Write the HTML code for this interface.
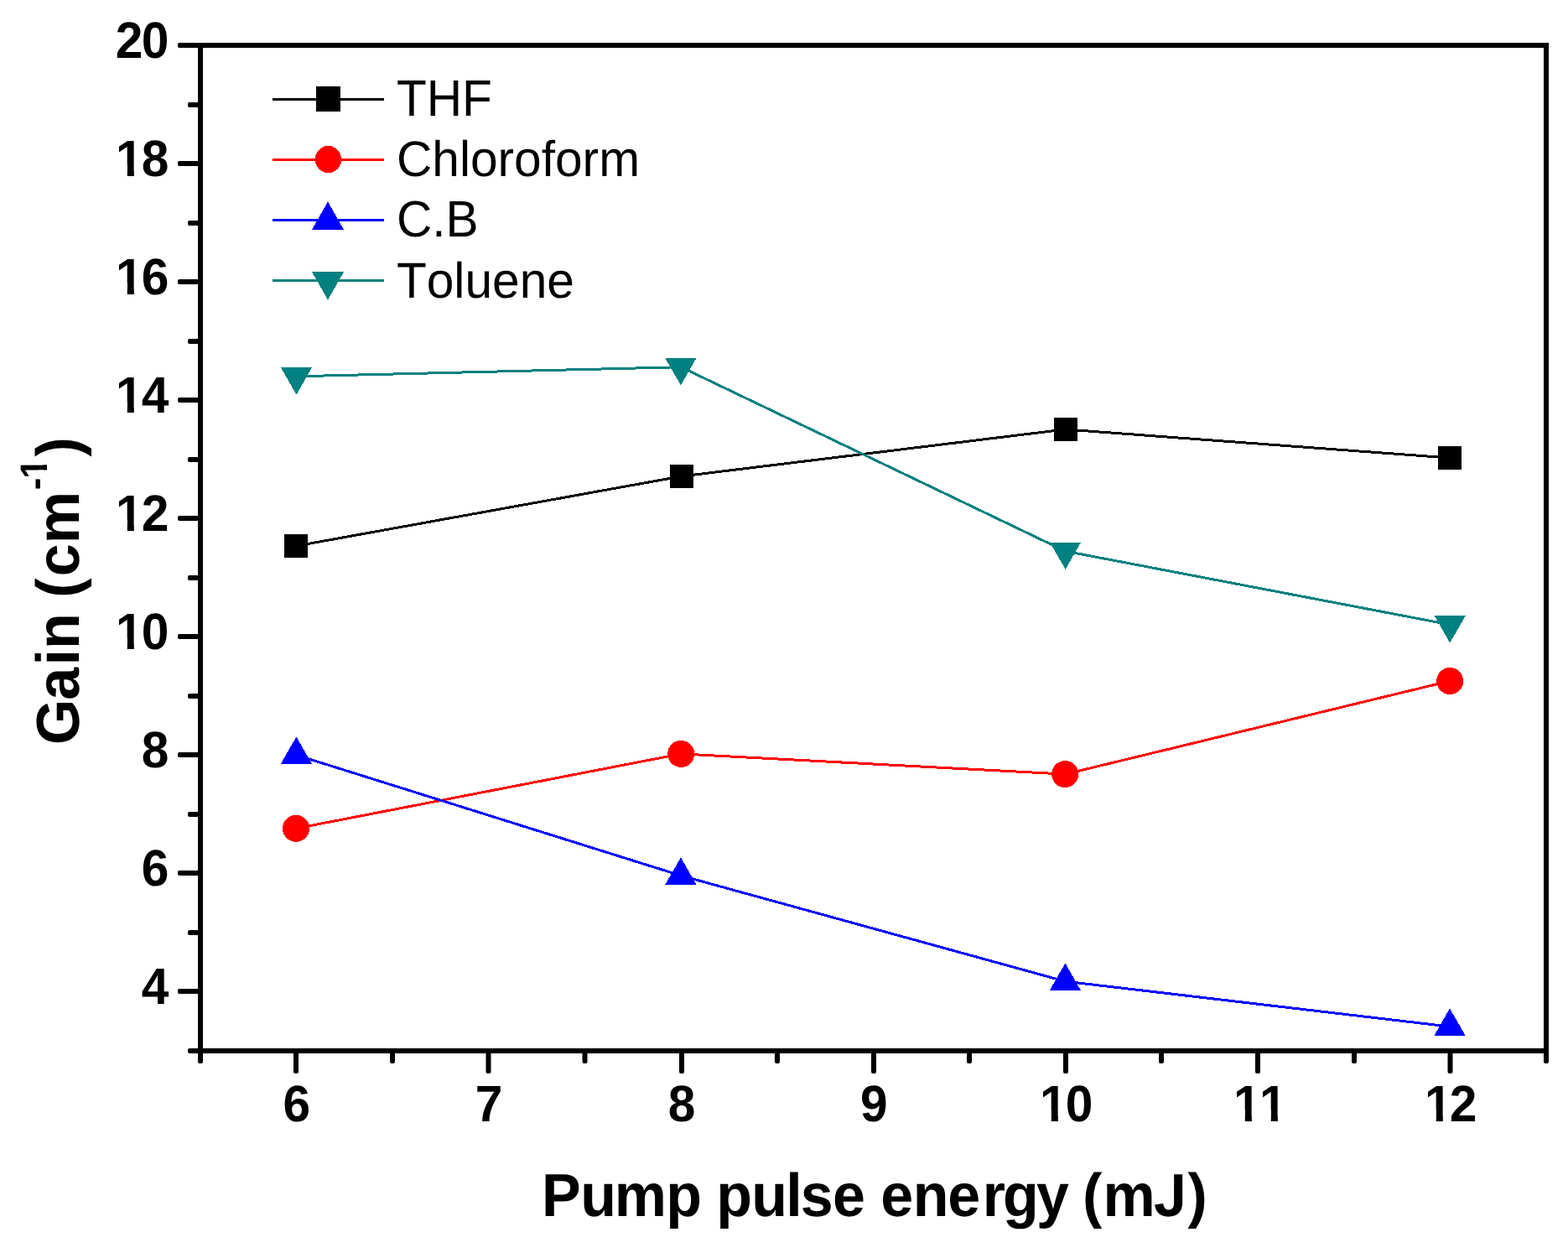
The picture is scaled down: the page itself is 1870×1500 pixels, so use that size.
<!DOCTYPE html>
<html lang="en"><head><meta charset="utf-8"><title>Gain vs pump pulse energy</title>
<style>
html,body{margin:0;padding:0;background:#fff;}
body{width:1870px;height:1500px;overflow:hidden;}
svg{display:block;}
text{font-family:"Liberation Sans",Arial,Helvetica,sans-serif;fill:#000;font-kerning:none;font-variant-ligatures:none;text-rendering:geometricPrecision;}
.tk{font-weight:bold;font-size:58.67px;}
.lg{font-weight:normal;font-size:58.67px;}
.xt{font-weight:bold;font-size:70px;}
.yt{font-weight:bold;font-size:70px;}
.ax{stroke:#000;stroke-width:6;fill:none;}
.ln{stroke-width:3;fill:none;stroke-linejoin:round;}
</style></head><body>
<svg width="1870" height="1500" viewBox="0 0 1870 1500">
<rect x="0" y="0" width="1870" height="1500" fill="#ffffff"/>
<defs>
<clipPath id="c10_0_306"><polygon points="-1.00,-46.94 21.74,-46.94 21.74,2.93 13.69,2.93 13.69,-12.91 -1.00,-12.91"/><rect x="32.57" y="-49.87" width="35.20" height="58.67"/></clipPath>
<clipPath id="c10_0_307"><polygon points="-1.00,-46.94 21.74,-46.94 21.74,2.93 13.69,2.93 13.69,-12.91 -1.00,-12.91"/><rect x="32.67" y="-49.87" width="35.20" height="58.67"/></clipPath>
<clipPath id="c11_0_310"><polygon points="-1.00,-46.94 21.74,-46.94 21.74,2.93 13.69,2.93 13.69,-12.91 -1.00,-12.91"/><polygon points="30.00,-46.94 52.74,-46.94 52.74,2.93 44.69,2.93 44.69,-12.91 30.00,-12.91"/></clipPath>
<clipPath id="c12_0_297"><polygon points="-1.00,-46.94 21.74,-46.94 21.74,2.93 13.69,2.93 13.69,-12.91 -1.00,-12.91"/><rect x="31.38" y="-49.87" width="35.20" height="58.67"/></clipPath>
<clipPath id="c12_0_306"><polygon points="-1.00,-46.94 21.74,-46.94 21.74,2.93 13.69,2.93 13.69,-12.91 -1.00,-12.91"/><rect x="32.28" y="-49.87" width="35.20" height="58.67"/></clipPath>
<clipPath id="c14_0_306"><polygon points="-1.00,-46.94 21.74,-46.94 21.74,2.93 13.69,2.93 13.69,-12.91 -1.00,-12.91"/><rect x="31.14" y="-49.87" width="35.20" height="58.67"/></clipPath>
<clipPath id="c16_0_306"><polygon points="-1.00,-46.94 21.74,-46.94 21.74,2.93 13.69,2.93 13.69,-12.91 -1.00,-12.91"/><rect x="32.40" y="-49.87" width="35.20" height="58.67"/></clipPath>
<clipPath id="c18_0_306"><polygon points="-1.00,-46.94 21.74,-46.94 21.74,2.93 13.69,2.93 13.69,-12.91 -1.00,-12.91"/><rect x="32.11" y="-49.87" width="35.20" height="58.67"/></clipPath>
<clipPath id="csup"><rect x="-5" y="-80" width="321.84" height="110"/><polygon points="316.74,-80.00 333.65,-80.00 333.65,0.00 327.61,0.00 327.61,-46.49 316.74,-46.49"/><rect x="340.89" y="-80" width="60" height="110"/></clipPath>
<clipPath id="cxt"><rect x="-10" y="-80" width="740.89" height="110"/><rect x="730.39" y="-37.60" width="25.10" height="67.60"/><rect x="754.18" y="-80" width="200" height="110"/></clipPath>
</defs>
<g id="frame" shape-rendering="crispEdges">
<rect class="ax" x="239" y="54" width="1605" height="1199"/>
</g>
<g id="yticks" fill="#000000">
<rect x="224" y="1250" width="15" height="6" rx="2" ry="2"/>
<rect x="212" y="1179" width="27" height="6" rx="2" ry="2"/>
<rect x="224" y="1109" width="15" height="6" rx="2" ry="2"/>
<rect x="212" y="1038" width="27" height="6" rx="2" ry="2"/>
<rect x="224" y="968" width="15" height="6" rx="2" ry="2"/>
<rect x="212" y="897" width="27" height="6" rx="2" ry="2"/>
<rect x="224" y="827" width="15" height="6" rx="2" ry="2"/>
<rect x="212" y="756" width="27" height="6" rx="2" ry="2"/>
<rect x="224" y="686" width="15" height="6" rx="2" ry="2"/>
<rect x="212" y="615" width="27" height="6" rx="2" ry="2"/>
<rect x="224" y="545" width="15" height="6" rx="2" ry="2"/>
<rect x="212" y="474" width="27" height="6" rx="2" ry="2"/>
<rect x="224" y="404" width="15" height="6" rx="2" ry="2"/>
<rect x="212" y="333" width="27" height="6" rx="2" ry="2"/>
<rect x="224" y="263" width="15" height="6" rx="2" ry="2"/>
<rect x="212" y="192" width="27" height="6" rx="2" ry="2"/>
<rect x="224" y="122" width="15" height="6" rx="2" ry="2"/>
<rect x="212" y="51" width="27" height="6" rx="2" ry="2"/>
</g>
<g id="xticks" fill="#000000">
<rect x="236" y="1253" width="6" height="15" rx="2" ry="2"/>
<rect x="350" y="1253" width="6" height="27" rx="2" ry="2"/>
<rect x="465" y="1253" width="6" height="15" rx="2" ry="2"/>
<rect x="579.5" y="1253" width="6" height="27" rx="2" ry="2"/>
<rect x="694.5" y="1253" width="6" height="15" rx="2" ry="2"/>
<rect x="810" y="1253" width="6" height="27" rx="2" ry="2"/>
<rect x="924" y="1253" width="6" height="15" rx="2" ry="2"/>
<rect x="1039" y="1253" width="6" height="27" rx="2" ry="2"/>
<rect x="1153" y="1253" width="6" height="15" rx="2" ry="2"/>
<rect x="1268" y="1253" width="6" height="27" rx="2" ry="2"/>
<rect x="1382" y="1253" width="6" height="15" rx="2" ry="2"/>
<rect x="1497" y="1253" width="6" height="27" rx="2" ry="2"/>
<rect x="1612" y="1253" width="6" height="15" rx="2" ry="2"/>
<rect x="1726.5" y="1253" width="6" height="27" rx="2" ry="2"/>
<rect x="1841" y="1253" width="6" height="15" rx="2" ry="2"/>
</g>
<g id="ylabels">
<text class="tk" transform="translate(137.80 69.00) scale(1 1.042)" x="0.00 30.90" y="0">20</text>
<text class="tk" transform="translate(138.10 210.00) scale(1 1.042)" x="0.00 30.60" y="0" clip-path="url(#c18_0_306)">18</text>
<text class="tk" transform="translate(138.10 351.00) scale(1 1.042)" x="0.00 30.60" y="0" clip-path="url(#c16_0_306)">16</text>
<text class="tk" transform="translate(138.10 492.00) scale(1 1.042)" x="0.00 30.60" y="0" clip-path="url(#c14_0_306)">14</text>
<text class="tk" transform="translate(138.10 633.00) scale(1 1.042)" x="0.00 30.60" y="0" clip-path="url(#c12_0_306)">12</text>
<text class="tk" transform="translate(138.10 774.00) scale(1 1.042)" x="0.00 30.60" y="0" clip-path="url(#c10_0_306)">10</text>
<text class="tk" transform="translate(168.70 915.00) scale(1 1.042)" x="0.00" y="0">8</text>
<text class="tk" transform="translate(168.70 1056.00) scale(1 1.042)" x="0.00" y="0">6</text>
<text class="tk" transform="translate(168.70 1197.00) scale(1 1.042)" x="0.00" y="0">4</text>
</g>
<g id="xlabels">
<text class="tk" transform="translate(337.50 1337.00) scale(1 1.042)" x="0.00" y="0">6</text>
<text class="tk" transform="translate(566.70 1337.00) scale(1 1.042)" x="0.00" y="0">7</text>
<text class="tk" transform="translate(796.70 1337.00) scale(1 1.042)" x="0.00" y="0">8</text>
<text class="tk" transform="translate(1025.90 1337.00) scale(1 1.042)" x="0.00" y="0">9</text>
<text class="tk" transform="translate(1240.10 1337.00) scale(1 1.042)" x="0.00 30.70" y="0" clip-path="url(#c10_0_307)">10</text>
<text class="tk" transform="translate(1471.10 1337.00) scale(1 1.042)" x="0.00 31.00" y="0" clip-path="url(#c11_0_310)">11</text>
<text class="tk" transform="translate(1699.10 1337.00) scale(1 1.042)" x="0.00 29.70" y="0" clip-path="url(#c12_0_297)">12</text>
</g>
<g id="plot" shape-rendering="crispEdges">
<g id="series-thf" fill="#000000" stroke="none">
<polyline class="ln" stroke="#000000" points="353.2,651.0 812.2,568.0 1270.5,512.0 1729.0,546.0"/>
<rect x="339.00" y="637.00" width="28" height="28"/>
<rect x="798.70" y="554.00" width="28" height="28"/>
<rect x="1256.70" y="498.00" width="28" height="28"/>
<rect x="1714.90" y="532.00" width="28" height="28"/>
</g>
<g id="series-chloroform" fill="#ff0000" stroke="none">
<polyline class="ln" stroke="#ff0000" points="353.2,987.8 812.2,898.9 1270.5,923.1 1729.0,812.0"/>
<circle cx="353.00" cy="987.80" r="16"/>
<circle cx="812.20" cy="898.90" r="16"/>
<circle cx="1270.20" cy="923.10" r="16"/>
<circle cx="1729.20" cy="812.00" r="16"/>
</g>
<g id="series-cb" fill="#0000ff" stroke="none">
<polyline class="ln" stroke="#0000ff" points="353.2,900.2 812.2,1044.1 1270.5,1170.2 1729.0,1224.1"/>
<polygon points="353.40,878.52 372.00,910.87 334.80,910.87"/>
<polygon points="811.90,1022.42 830.50,1054.77 793.30,1054.77"/>
<polygon points="1270.40,1148.52 1289.00,1180.87 1251.80,1180.87"/>
<polygon points="1729.00,1202.42 1747.60,1234.77 1710.40,1234.77"/>
</g>
<g id="series-toluene" fill="#008080" stroke="none">
<polyline class="ln" stroke="#008080" points="353.2,448.8 812.2,437.7 1270.5,657.2 1729.0,744.8"/>
<polygon points="334.90,438.13 372.10,438.13 353.50,470.48"/>
<polygon points="793.30,427.03 830.50,427.03 811.90,459.38"/>
<polygon points="1252.00,646.53 1289.20,646.53 1270.60,678.88"/>
<polygon points="1710.60,734.13 1747.80,734.13 1729.20,766.48"/>
</g>
</g>
<g id="legend">
<g shape-rendering="crispEdges">
<line class="ln" stroke="#000000" x1="325" x2="458" y1="118.5" y2="118.5"/>
<rect fill="#000000" x="377.00" y="103.00" width="29" height="30"/>
<line class="ln" stroke="#ff0000" x1="325" x2="458" y1="190.4" y2="190.4"/>
<ellipse fill="#ff0000" cx="391.50" cy="190.05" rx="15.7" ry="16.1"/>
<line class="ln" stroke="#0000ff" x1="325" x2="458" y1="262.5" y2="262.5"/>
<g fill="#0000ff"><polygon points="391.00,240.55 410.20,274.00 371.80,274.00"/></g>
<line class="ln" stroke="#008080" x1="325" x2="458" y1="334.4" y2="334.4"/>
<g fill="#008080"><polygon points="371.80,324.00 410.20,324.00 391.00,357.45"/></g>
</g>
<text class="lg" transform="translate(472.90 138.00) scale(1 1.04)" x="0" y="0">THF</text>
<text class="lg" transform="translate(472.90 209.90) scale(1 1.02)" x="0" y="0">Chloroform</text>
<text class="lg" transform="translate(472.90 282.00) scale(1 1.04)" x="0" y="0">C.B</text>
<text class="lg" transform="translate(472.90 354.80) scale(1 1.02)" x="0" y="0">Toluene</text>
</g>
<g id="titles">
<text class="xt" transform="translate(645.96 1449.90) scale(1 1.035)" x="0.00 46.20 86.83 148.39 189.99 208.33 250.40 291.35 308.83 347.15 386.50 404.35 442.92 484.35 525.69 550.07 590.09 628.78 645.13 669.63 730.09 770.64" y="0" clip-path="url(#cxt)">Pump pulse energy (mJ)</text>
<text class="yt" transform="translate(94.10 887.99) rotate(-90) scale(1 1.035)" x="0.00 53.28 94.40 114.12 156.68 175.27 200.68 239.73 303.69 317.34 343.59" y="0" dy="0.00 0.00 0.00 0.00 0.00 0.00 0.00 0.00 -35.91 -0.90 36.81" clip-path="url(#csup)">Gain (cm<tspan font-size="44px">-1</tspan>)</text>
</g>
</svg>
</body></html>
